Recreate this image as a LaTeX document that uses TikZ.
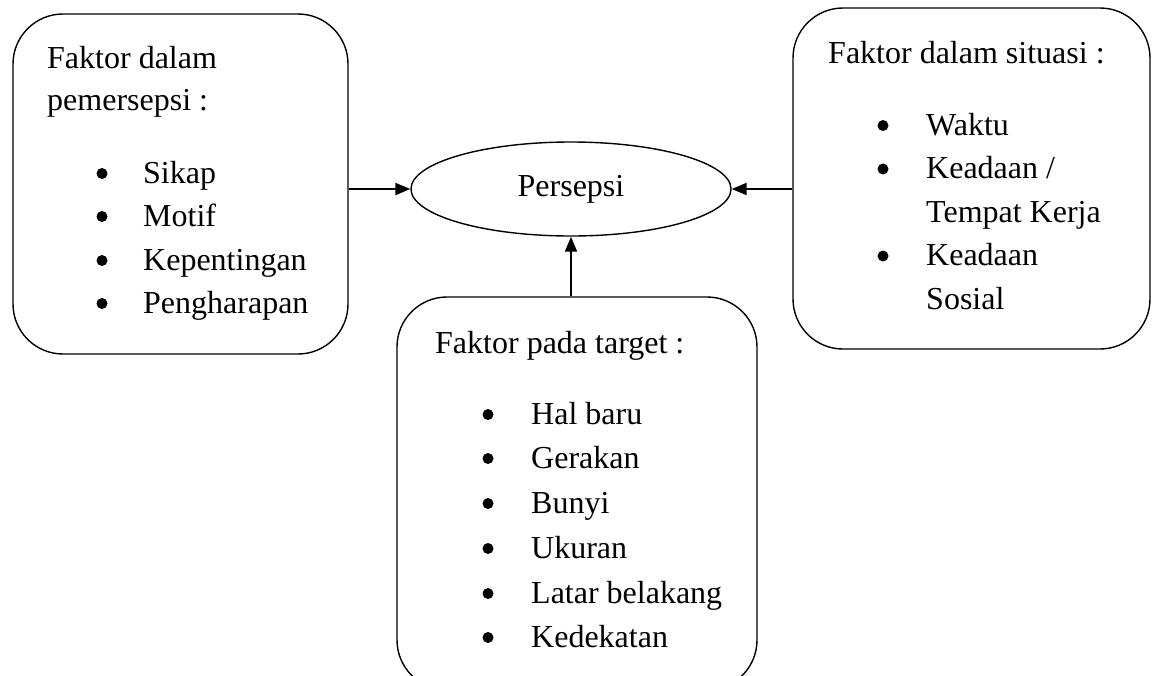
\documentclass[tikz,border=0pt]{standalone}
\usepackage{fontspec}
\setmainfont{Liberation Serif}
\usetikzlibrary{shapes.geometric,arrows.meta}

\begin{document}
\begin{tikzpicture}[x=1pt,y=-1pt,
  panel/.style={draw, line width=1.4pt, rounded corners=50pt, inner sep=0pt},
  core/.style={draw, ellipse, line width=1.4pt, inner sep=0pt,
    minimum width=320pt, minimum height=94pt, font=\fontsize{32}{40}\selectfont},
  conn/.style={line width=2pt, -{Triangle[length=15pt,width=12pt]}},
  txt/.style={anchor=base west, inner sep=0pt, font=\fontsize{32}{40}\selectfont},
  dot/.style={circle, fill, inner sep=0pt, minimum size=11pt, yshift=9.5pt}]
\useasboundingbox (0,0) rectangle (1158,675);
\clip (0,0) rectangle (1158,675);

% three factor panels and the central ellipse
\node[panel, minimum width=335pt, minimum height=340pt] (lbox) at (180.5,184) {};
\node[panel, minimum width=357pt, minimum height=341pt] (rbox) at (971.5,178.5) {};
\node[panel, minimum width=360pt, minimum height=393pt] (bbox) at (577,493.5) {};
\node[core] (ell) at (571,189) {Persepsi};

% connectors into the ellipse
\draw[conn] (lbox.east |- ell) -- (ell.west);
\draw[conn] (rbox.west |- ell) -- (ell.east);
\draw[conn] (ell.south |- bbox.north) -- (ell.south);

% left panel (bullet marks sit on each item's baseline)
\node[txt] (l1) at (47,68) {Faktor dalam};
\node[txt] (l2) at (47,110) {pemersepsi :};
\foreach \y/\t [count=\i] in {183/Sikap, 226/Motif, 270/Kepentingan, 313/Pengharapan}{
  \node[dot] (lb\i) at (102,\y) {};
  \node[txt] (lt\i) at (143,\y) {\t};
}

% right panel
\node[txt] (r1) at (828,63) {Faktor dalam situasi :};
\node[dot] (rb1) at (883,135) {};
\node[dot] (rb2) at (883,178.5) {};
\node[dot] (rb3) at (883,265.5) {};
\node[txt] (r2) at (926,135) {Waktu};
\node[txt] (r3) at (926,178.5) {Keadaan /};
\node[txt] (r4) at (926,222) {Tempat Kerja};
\node[txt] (r5) at (926,265.5) {Keadaan};
\node[txt] (r6) at (926,309) {Sosial};

% bottom panel
\node[txt] (b1) at (435,353) {Faktor pada target :};
\foreach \y/\t [count=\i] in {424/Hal baru, 468/Gerakan, 513/Bunyi, 558/Ukuran, 603/Latar belakang, 647/Kedekatan}{
  \node[dot] (bb\i) at (488,\y) {};
  \node[txt] (bt\i) at (531,\y) {\t};
}
\end{tikzpicture}
\end{document}
